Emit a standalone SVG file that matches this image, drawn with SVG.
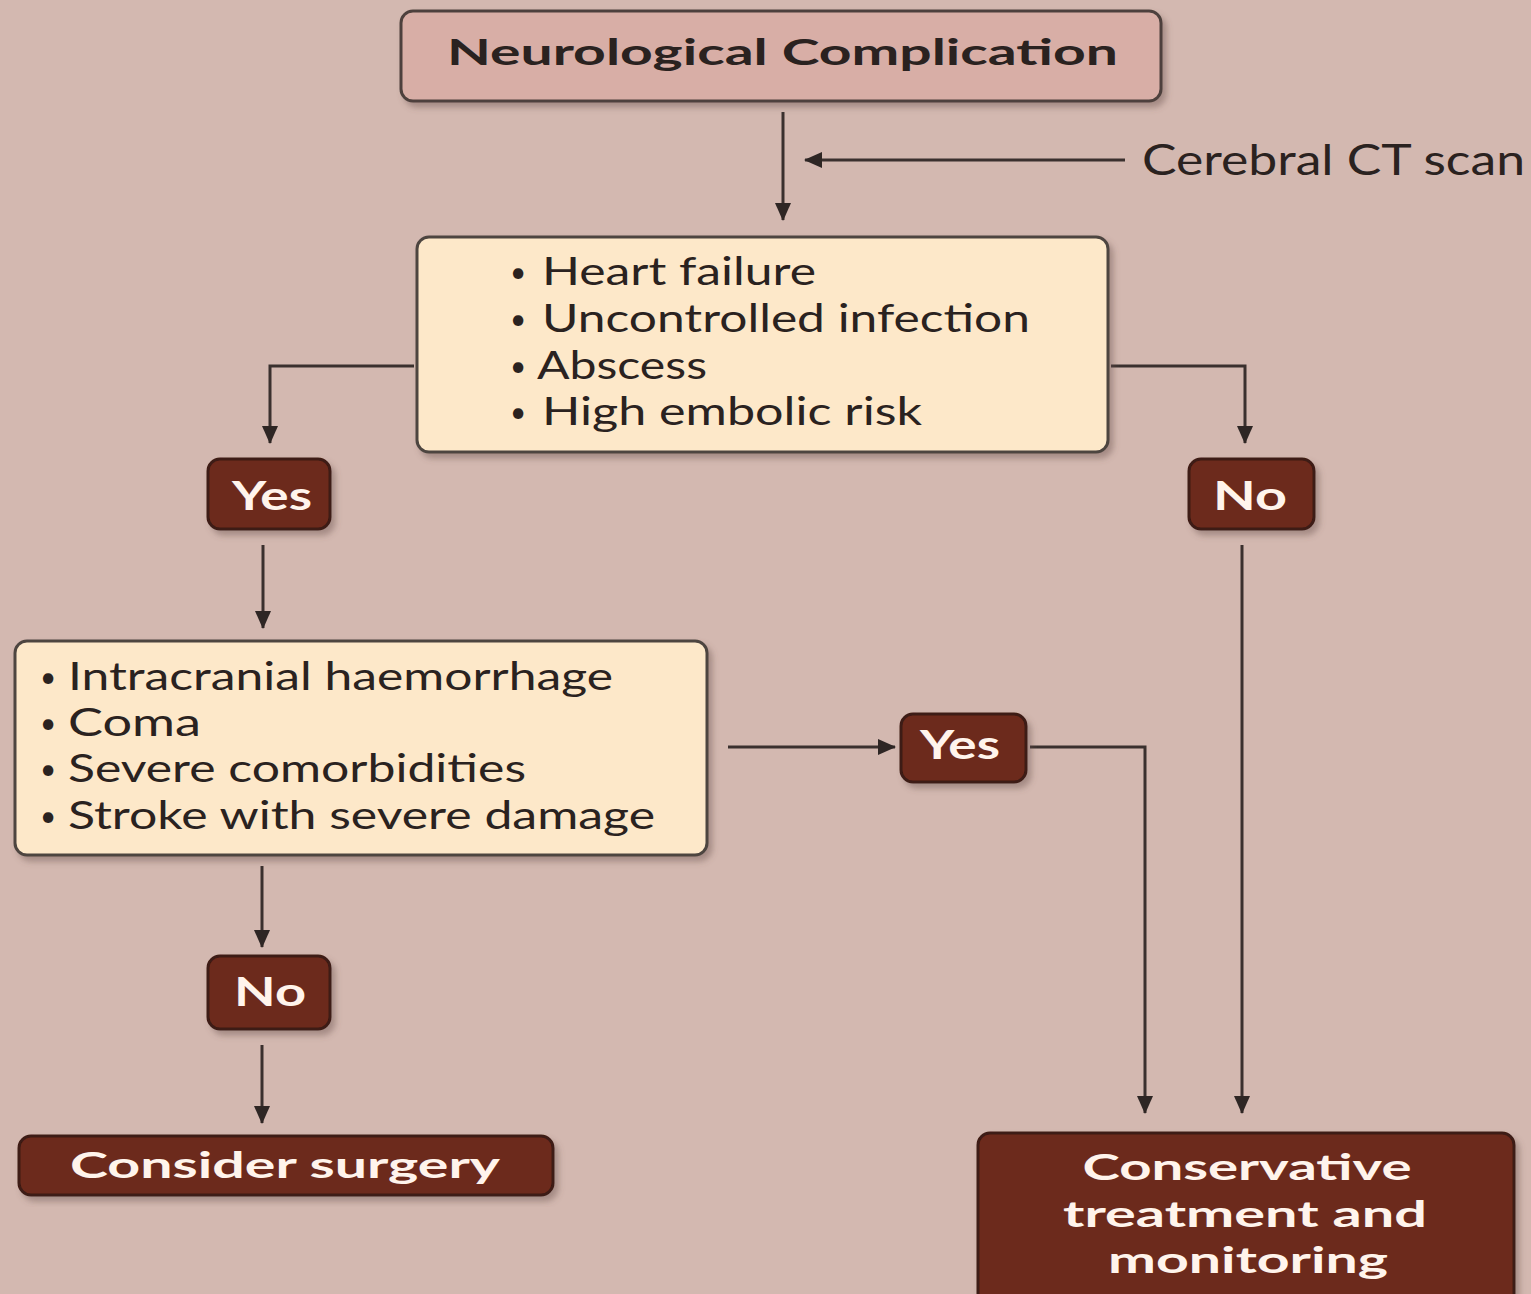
<svg xmlns="http://www.w3.org/2000/svg" width="1531" height="1294" viewBox="0 0 1531 1294">
<defs>
<marker id="ah" markerUnits="userSpaceOnUse" markerWidth="18" markerHeight="16" viewBox="0 0 18 16" refX="17" refY="8" orient="auto">
<path d="M0,0 L18,8 L0,16 Z" fill="#2e2624"/>
</marker>
<filter id="sh" x="-10%" y="-10%" width="125%" height="130%">
<feDropShadow dx="4" dy="5" stdDeviation="3" flood-color="#6b5550" flood-opacity="0.45"/>
</filter>
<style>
.bg{fill:#d3b8b0}
.top{fill:#d8aea6;stroke:#4e413c;stroke-width:3}
.cream{fill:#fde8c9;stroke:#4e4540;stroke-width:3}
.dark{fill:#6c2a1b;stroke:#3e1a12;stroke-width:3}
.t{font-family:Lato,"Open Sans","DejaVu Sans",sans-serif;fill:#2a2220}
.b{font-size:38px}
.d{font-family:Lato,"Open Sans","DejaVu Sans",sans-serif;fill:#2a2220;font-size:28px}
.w{font-family:Lato,"Open Sans","DejaVu Sans",sans-serif;font-weight:700;fill:#fff4ec;font-size:36px;text-anchor:middle}
.wl{font-size:40px}
.c{stroke:#3a302e;stroke-width:3;fill:none}
</style>
</defs>
<rect class="bg" x="0" y="0" width="1531" height="1294"/>

<g id="connectors">
<path class="c" d="M783,112 V220" marker-end="url(#ah)"/>
<path class="c" d="M1125,160 H805" marker-end="url(#ah)"/>
<path class="c" d="M414,366 H270 V443" marker-end="url(#ah)"/>
<path class="c" d="M1111,366 H1245 V443" marker-end="url(#ah)"/>
<path class="c" d="M263,545 V628" marker-end="url(#ah)"/>
<path class="c" d="M728,747 H895" marker-end="url(#ah)"/>
<path class="c" d="M1030,747 H1145 V1113" marker-end="url(#ah)"/>
<path class="c" d="M1242,545 V1113" marker-end="url(#ah)"/>
<path class="c" d="M262,866 V947" marker-end="url(#ah)"/>
<path class="c" d="M262,1045 V1123" marker-end="url(#ah)"/>
</g>

<g id="ct-label">
<text class="t" x="1142" y="175" font-size="42" textLength="383" lengthAdjust="spacingAndGlyphs">Cerebral CT scan</text>
</g>

<g id="neuro">
<rect class="top" x="401" y="11" width="760" height="90" rx="12" filter="url(#sh)"/>
<text class="t" x="447" y="65" font-size="36" font-weight="700" textLength="671" lengthAdjust="spacingAndGlyphs">Neurological Complication</text>
</g>

<g id="criteria1">
<rect class="cream" x="417" y="237" width="691" height="215" rx="12" filter="url(#sh)"/>
<text class="d" x="510" y="282">•</text><text class="t b" x="542" y="285" textLength="274" lengthAdjust="spacingAndGlyphs">Heart failure</text>
<text class="d" x="510" y="329">•</text><text class="t b" x="542" y="332" textLength="488" lengthAdjust="spacingAndGlyphs">Uncontrolled infection</text>
<text class="d" x="510" y="376">•</text><text class="t b" x="537" y="379" textLength="170" lengthAdjust="spacingAndGlyphs">Abscess</text>
<text class="d" x="510" y="422">•</text><text class="t b" x="542" y="425" textLength="380" lengthAdjust="spacingAndGlyphs">High embolic risk</text>
</g>

<g id="yes1">
<rect class="dark" x="208" y="459" width="122" height="70" rx="12" filter="url(#sh)"/>
<text class="w wl" x="272" y="510" textLength="80" lengthAdjust="spacingAndGlyphs">Yes</text>
</g>

<g id="no1">
<rect class="dark" x="1189" y="459" width="125" height="70" rx="12" filter="url(#sh)"/>
<text class="w wl" x="1250" y="510" textLength="74" lengthAdjust="spacingAndGlyphs">No</text>
</g>

<g id="criteria2">
<rect class="cream" x="15" y="641" width="692" height="214" rx="12" filter="url(#sh)"/>
<text class="d" x="40" y="687">•</text><text class="t b" x="68" y="690" textLength="545" lengthAdjust="spacingAndGlyphs">Intracranial haemorrhage</text>
<text class="d" x="40" y="733">•</text><text class="t b" x="68" y="736" textLength="133" lengthAdjust="spacingAndGlyphs">Coma</text>
<text class="d" x="40" y="779">•</text><text class="t b" x="68" y="782" textLength="458" lengthAdjust="spacingAndGlyphs">Severe comorbidities</text>
<text class="d" x="40" y="826">•</text><text class="t b" x="68" y="829" textLength="587" lengthAdjust="spacingAndGlyphs">Stroke with severe damage</text>
</g>

<g id="yes2">
<rect class="dark" x="901" y="714" width="125" height="68" rx="12" filter="url(#sh)"/>
<text class="w wl" x="960" y="759" textLength="80" lengthAdjust="spacingAndGlyphs">Yes</text>
</g>

<g id="no2">
<rect class="dark" x="208" y="956" width="122" height="73" rx="12" filter="url(#sh)"/>
<text class="w wl" x="270" y="1006" textLength="72" lengthAdjust="spacingAndGlyphs">No</text>
</g>

<g id="surgery">
<rect class="dark" x="19" y="1136" width="534" height="59" rx="12" filter="url(#sh)"/>
<text class="w" x="285" y="1178" textLength="430" lengthAdjust="spacingAndGlyphs">Consider surgery</text>
</g>

<g id="conservative">
<rect class="dark" x="978" y="1133" width="536" height="175" rx="12" filter="url(#sh)"/>
<text class="w" x="1247" y="1180" textLength="329" lengthAdjust="spacingAndGlyphs">Conservative</text>
<text class="w" x="1245" y="1227" textLength="364" lengthAdjust="spacingAndGlyphs">treatment and</text>
<text class="w" x="1248" y="1273" textLength="280" lengthAdjust="spacingAndGlyphs">monitoring</text>
</g>
</svg>
